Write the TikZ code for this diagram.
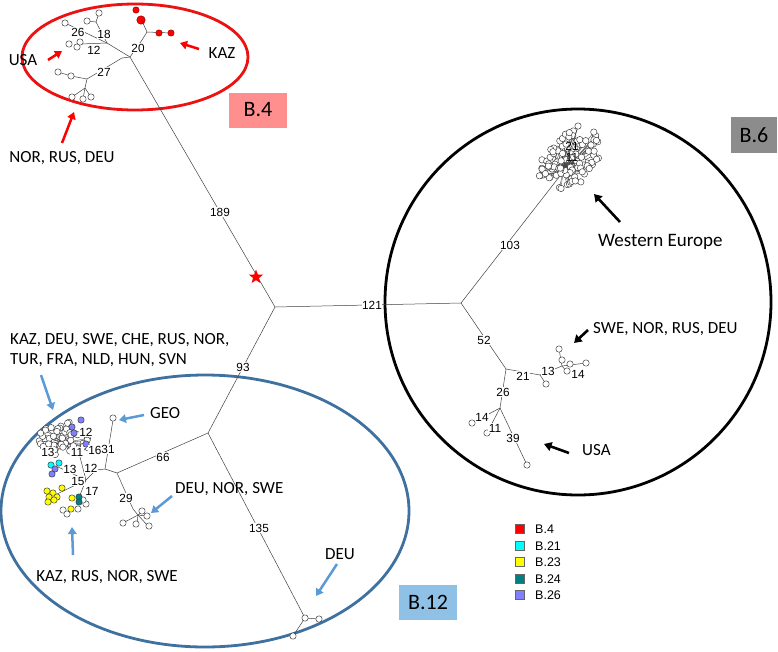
\documentclass[tikz,border=0pt]{standalone}
\usepackage{fontspec}
\setmainfont{Carlito}
\newfontfamily\arialf{Liberation Sans}
\usetikzlibrary{arrows.meta,shapes.geometric}
\definecolor{redE}{RGB}{236,18,18}
\definecolor{pinkbox}{RGB}{255,143,143}
\definecolor{graybox}{RGB}{140,140,140}
\definecolor{bluebox}{RGB}{143,193,230}
\definecolor{blueE}{RGB}{62,112,160}
\definecolor{blueA}{RGB}{90,155,215}
\definecolor{cyanN}{RGB}{0,255,255}
\definecolor{yellowN}{RGB}{255,255,0}
\definecolor{tealN}{RGB}{0,128,128}
\definecolor{purpN}{RGB}{128,128,255}
\begin{document}
\begin{tikzpicture}[x=1pt,y=-1pt,
  tl/.style={draw=black!75,line width=0.5pt},
  nd/.style={circle,draw=black!80,fill=white,line width=0.45pt,minimum size=6.4pt,inner sep=0pt},
  rn/.style={nd,fill=red,draw=red!55!black},
  cn/.style={nd,fill=cyanN},
  yn/.style={nd,fill=yellowN},
  tn/.style={nd,fill=tealN},
  pn/.style={nd,fill=purpN},
  num/.style={font=\arialf\fontsize{11.8}{12}\selectfont,fill=white,inner sep=0.5pt},
  lab/.style={font=\fontsize{17}{20}\selectfont,inner sep=0pt},
  boxlab/.style={font=\fontsize{22}{22}\selectfont,minimum width=58pt,minimum height=35pt,inner sep=0pt},
  rarr/.style={draw=red,line width=2.5pt,-{Triangle[length=7pt,width=8.5pt]}},
  barr/.style={draw=blueA,line width=2.5pt,-{Triangle[length=7pt,width=8.5pt]}},
  karr/.style={draw=black,line width=2.6pt,-{Triangle[length=7.5pt,width=9pt]}},
  legsq/.style={draw=black!60,line width=0.4pt,minimum size=9pt,inner sep=0pt},
  legtx/.style={font=\arialf\fontsize{12.5}{13}\selectfont,anchor=west,inner sep=0pt}
]
\useasboundingbox (0,0) rectangle (778,651);

% ---------------- group outlines ----------------
\draw[redE,line width=2.8pt] (135,57) ellipse [x radius=113, y radius=53];
\draw[black,line width=2.8pt] (578,302) circle [radius=193];
\draw[blueE,line width=2.8pt] (205,511) ellipse [x radius=204, y radius=136];

% ---------------- backbone ----------------
\coordinate (J4) at (130,57);
\coordinate (J4L) at (122,58);
\coordinate (J0) at (275,307);
\coordinate (B12) at (208,433);
\coordinate (C12) at (117,473);
\coordinate (C2) at (105,469);
\coordinate (D12) at (305,618);
\coordinate (H6) at (461,303);
\coordinate (W6) at (563,172);
\coordinate (L6) at (506,369);
\coordinate (M6) at (540,375);
\coordinate (N6) at (562,366);
\coordinate (P6) at (500,408);

\draw[tl] (J4) -- (J0);
\draw[tl] (J0) -- (B12);
\draw[tl] (J0) -- (H6);
\node[star,star points=5,star point ratio=2.4,fill=red,minimum size=15pt,inner sep=0pt] (star) at (256,277) {};
\node[num] (n189) at (220,212) {189};
\node[num] (n121) at (372,305) {121};
\node[num] (n93) at (243,367) {93};

% ---------------- B.4 tree ----------------
\coordinate (K1) at (107,43);
\coordinate (K18) at (96,22);
\coordinate (K27) at (87,79);
\coordinate (K27b) at (85,88);
\coordinate (R4) at (147,32);
\draw[tl] (J4L) -- (J4);
\draw[tl] (J4) -- (K1);
\draw[tl] (K1) -- (K18);
\draw[tl] (J4) -- (142,40) -- (R4);
\draw[tl] (J4L) -- (K27) -- (K27b);
\draw[tl] (K18) -- (87,21); \draw[tl] (K18) -- (99,13);
\draw[tl] (K1) -- (65,23);
\draw[tl] (K1) -- (80,44);
\node[nd] (a1) at (87,21) {};
\node[nd] (a2) at (99,13) {};
\node[nd] (a3) at (65,23) {};
\node[nd] (a4) at (69,44) {};
\node[nd] (a5) at (77,47) {};
\node[nd] (a6) at (80,42) {};
\draw[tl] (K27) -- (71,76) -- (58,72);
\node[nd] (a7) at (71,76) {};
\node[nd] (a8) at (58,72) {};
\draw[tl] (K27b) -- (72,97); \draw[tl] (K27b) -- (83,99); \draw[tl] (K27b) -- (91,97);
\node[nd] (a9) at (72,97) {};
\node[nd] (a10) at (83,99) {};
\node[nd] (a11) at (91,97) {};
\draw[tl] (R4) -- (142,21);
\draw[tl] (R4) -- (171,33);
\node[rn] (r1) at (136,10) {};
\node[rn,minimum size=8.5pt] (r2) at (141,20) {};
\draw[red!55!black,line width=0.4pt] (r2.center) -- (r2.south east);
\node[rn] (r3) at (159,33) {};
\node[rn] (r4) at (171,33) {};
\node[num] at (78,32) {26};
\node[num] at (104,34) {18};
\node[num] at (94,50) {12};
\node[num] at (138,48) {20};
\node[num] at (104,72) {27};

% labels B.4
\node[lab] (usa1) at (23,60) {USA};
\node[lab] (kaz1) at (222,53) {KAZ};
\node[lab] (nor1) at (62,158) {NOR, RUS, DEU};
\coordinate (usa1t) at (48,60); \coordinate (usa1h) at (62,51);
\draw[rarr] (usa1t) -- (usa1h);
\coordinate (kaz1t) at (199,49); \coordinate (kaz1h) at (180,43);
\draw[rarr] (kaz1t) -- (kaz1h);
\coordinate (nor1t) at (62,143); \coordinate (nor1h) at (74,112);
\draw[rarr] (nor1t) -- (nor1h);
\node[boxlab,fill=pinkbox] (b4) at (258,110) {B.4};

% ---------------- B.6 tree ----------------
\draw[tl] (H6) -- (W6);
\draw[tl] (H6) -- (L6);
\draw[tl] (L6) -- (M6) -- (N6);
\draw[tl] (L6) -- (P6);
\draw[tl] (M6) -- (546,384);
\node[nd] (s1) at (546,384) {};
\draw[tl] (N6) -- (559,349); \draw[tl] (N6) -- (586,363); \draw[tl] (N6) -- (567,372);
\node[nd] (s2) at (559,349) {};
\node[nd] (s3) at (562,360) {};
\node[nd] (s4) at (570,364) {};
\node[nd] (s5) at (567,371) {};
\node[nd] (s6) at (586,363) {};
\draw[tl] (P6) -- (472,423); \draw[tl] (P6) -- (487,433); \draw[tl] (P6) -- (527,465);
\node[nd] (u1) at (472,423) {};
\node[nd] (u2) at (487,433) {};
\node[nd] (u3) at (527,465) {};
\node[num] at (510,245) {103};
\node[num] at (484,340) {52};
\node[num] at (523,376) {21};
\node[num] at (548,371) {13};
\node[num] at (578,374) {14};
\node[num] at (503,392) {26};
\node[num] at (482,417) {14};
\node[num] at (495,428) {11};
\node[num] at (513,438) {39};

% B.6 dense cluster
\pgfmathsetseed{11}
\foreach \i in {1,...,110}{
  \pgfmathsetmacro\ang{rnd*360}
  \pgfmathsetmacro\rad{sqrt(rnd)}
  \pgfmathsetmacro\uu{\rad*38*cos(\ang)}
  \pgfmathsetmacro\vv{\rad*24*sin(\ang)}
  \pgfmathsetmacro\px{570+\uu*0.72+\vv*0.69}
  \pgfmathsetmacro\py{160-\uu*0.69+\vv*0.72}
  \draw[tl,line width=0.35pt] (W6) -- (\px,\py);
}
\pgfmathsetseed{11}
\foreach \i in {1,...,110}{
  \pgfmathsetmacro\ang{rnd*360}
  \pgfmathsetmacro\rad{sqrt(rnd)}
  \pgfmathsetmacro\uu{\rad*38*cos(\ang)}
  \pgfmathsetmacro\vv{\rad*24*sin(\ang)}
  \pgfmathsetmacro\px{570+\uu*0.72+\vv*0.69}
  \pgfmathsetmacro\py{160-\uu*0.69+\vv*0.72}
  \node[nd] (w\i) at (\px,\py) {};
}
\draw[tl] (W6) -- (578,127);
\node[nd] (wtop) at (578,126) {};
\node[font=\arialf\fontsize{11.8}{12}\selectfont,inner sep=0pt] at (572,146) {21};
\node[font=\arialf\fontsize{11.8}{12}\selectfont,inner sep=0pt] at (572,157) {11};

% labels B.6
\node[font=\fontsize{19}{22}\selectfont,anchor=west,inner sep=0pt] (we) at (598,242) {Western Europe};
\coordinate (wet) at (620,222); \coordinate (weh) at (594,194);
\draw[karr] (wet) -- (weh);
\node[lab,anchor=west] (swe6) at (593,329) {SWE, NOR, RUS, DEU};
\coordinate (swet) at (588,330); \coordinate (sweh) at (574,343);
\draw[karr] (swet) -- (sweh);
\node[lab,anchor=west] (usa6) at (582,450) {USA};
\coordinate (usat) at (569,453); \coordinate (usah) at (544,444);
\draw[karr] (usat) -- (usah);
\node[boxlab,fill=graybox,minimum width=46pt,minimum height=36pt] (b6) at (754,135) {B.6};

% ---------------- B.12 tree ----------------
\draw[tl] (B12) -- (C12);
\draw[tl] (B12) -- (D12);
\draw[tl] (C12) -- (C2);
\draw[tl] (C2) -- (113,420);
\node[nd] (geo) at (113,418) {};
\coordinate (F12) at (133,509);
\draw[tl] (C12) -- (F12) -- (138,515);
\foreach \p in {(123,523),(137,523),(142,512),(146,516),(148,526)}{\draw[tl] (138,515) -- \p;}
\node[nd] (f1) at (123,523) {};
\node[nd] (f2) at (136,524) {};
\node[nd] (f3) at (142,511) {};
\node[nd] (f4) at (147,516) {};
\node[nd] (f5) at (149,526) {};
\draw[tl] (D12) -- (319,619);
\draw[tl] (D12) -- (293,636);
\node[nd] (d1) at (305,618) {};
\node[nd] (d2) at (319,619) {};
\node[nd] (d3) at (293,636) {};

\coordinate (E12) at (86,480);
\coordinate (HUB) at (63,443);
\draw[tl] (C2) -- (96,470) -- (E12);
\draw[tl] (E12) -- (80,457) -- (HUB);
\draw[tl] (80,457) -- (88,443);
\draw[tl] (E12) -- (58,467);
\draw[tl] (E12) -- (57,494);
\draw[tl] (E12) -- (78,500);

% white cluster
\pgfmathsetseed{5}
\foreach \i in {1,...,48}{
  \pgfmathsetmacro\ang{rnd*360}
  \pgfmathsetmacro\rad{sqrt(rnd)}
  \pgfmathsetmacro\px{65+\rad*27*cos(\ang)}
  \pgfmathsetmacro\py{439+\rad*17*sin(\ang)}
  \draw[tl,line width=0.35pt] (HUB) -- (\px,\py);
}
\pgfmathsetseed{5}
\foreach \i in {1,...,48}{
  \pgfmathsetmacro\ang{rnd*360}
  \pgfmathsetmacro\rad{sqrt(rnd)}
  \pgfmathsetmacro\px{65+\rad*27*cos(\ang)}
  \pgfmathsetmacro\py{439+\rad*17*sin(\ang)}
  \node[nd] (v\i) at (\px,\py) {};
}
\node[pn] (p1) at (81,420) {};
\node[pn] (p2) at (72,427) {};
\node[pn] (p3) at (74,433) {};
\node[pn] (p4) at (86,444) {};
\node[cn] (c1) at (51,465) {};
\node[cn] (c2) at (59,463) {};
\node[pn] (p5) at (55,469) {};
\node[pn] (p6) at (52,474) {};
\foreach \p/\n in {(63,510)/g1,(78,509)/g2,(86,504)/g3,(83,500)/g4,(67,514)/g5}{\node[nd] (\n) at \p {};}
\foreach \p/\n in {(47,491)/y1,(53,493)/y2,(62,488)/y3,(49,497)/y4,(57,497)/y5,(48,502)/y6,(54,500)/y7,(72,498)/y8,(71,509)/y9}{\node[yn] (\n) at \p {};}
\node[tn] (t1) at (79,497) {};
\node[tn] (t2) at (79,502) {};

\node[num] at (86,432) {12};
\node[num] at (48,452) {13};
\node[num] at (77,452) {11};
\node[num] at (95,450) {16};
\node[num] at (108,449) {31};
\node[num] at (70,469) {13};
\node[num] at (91,468) {12};
\node[num] at (78,481) {15};
\node[num] at (92,491) {17};
\node[num] at (126,498) {29};
\node[num] at (163,457) {66};
\node[num] at (259,528) {135};

% labels B.12
\node[lab,anchor=west] (geot) at (150,413) {GEO};
\coordinate (geotl) at (144,415); \coordinate (geoh) at (119,420);
\draw[barr] (geotl) -- (geoh);
\node[lab,anchor=west] (dns) at (175,489) {DEU, NOR, SWE};
\coordinate (dnst) at (172,496); \coordinate (dnsh) at (151,513);
\draw[barr] (dnst) -- (dnsh);
\node[lab] (deu) at (340,554) {DEU};
\coordinate (deut) at (337,564); \coordinate (deuh) at (316,596);
\draw[barr] (deut) -- (deuh);
\node[lab,anchor=west,align=left] (kaz2) at (10,350) {KAZ, DEU, SWE, CHE, RUS, NOR,\\TUR, FRA, NLD, HUN, SVN};
\coordinate (kaz2t) at (41,375); \coordinate (kaz2h) at (53,410);
\draw[barr] (kaz2t) -- (kaz2h);
\node[lab] (kaz3) at (107,577) {KAZ, RUS, NOR, SWE};
\coordinate (kaz3t) at (73,555); \coordinate (kaz3h) at (72,527);
\draw[barr] (kaz3t) -- (kaz3h);
\node[boxlab,fill=bluebox] (b12) at (428,602) {B.12};

% ---------------- legend ----------------
\node[legsq,fill=red] (l1) at (520,529) {};
\node[legtx] at (535,529) {B.4};
\node[legsq,fill=cyanN] (l2) at (520,546) {};
\node[legtx] at (535,546) {B.21};
\node[legsq,fill=yellowN] (l3) at (520,562) {};
\node[legtx] at (535,562) {B.23};
\node[legsq,fill=tealN] (l4) at (520,579) {};
\node[legtx] at (535,579) {B.24};
\node[legsq,fill=purpN] (l5) at (520,595) {};
\node[legtx] at (535,595) {B.26};
\end{tikzpicture}
\end{document}
